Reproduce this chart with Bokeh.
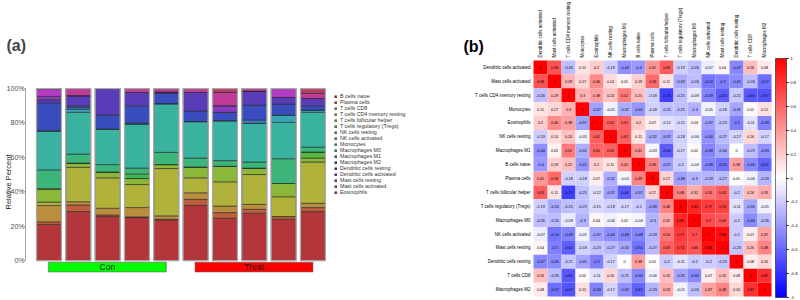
import numpy as np
from bokeh.plotting import figure
from bokeh.models import (ColumnDataSource, Range1d, FixedTicker, PrintfTickFormatter,
                          Legend, LegendItem, Label, Title, LinearColorMapper, ColorBar,
                          CustomJSTickFormatter)
from bokeh.layouts import row, column
from bokeh.embed import file_html
from bokeh.resources import INLINE
from bokeh.core.properties import value
from bokeh.transform import transform

FONT = "Liberation Sans"

# ---------------- (a) relative immune-cell fractions per sample ----------------
samples = ["Con1", "Con2", "Con3", "Con4", "Con5",
           "Treat1", "Treat2", "Treat3", "Treat4", "Treat5"]
sample_groups = ["Con"] * 5 + ["Treat"] * 5
group_names = ["Con", "Treat"]

cell_types = ["B cells naive", "Plasma cells", "T cells CD8", "T cells CD4 memory resting",
              "T cells follicular helper", "T cells regulatory (Tregs)", "NK cells resting",
              "NK cells activated", "Monocytes", "Macrophages M0", "Macrophages M1",
              "Macrophages M2", "Dendritic cells resting", "Dendritic cells activated",
              "Mast cells resting", "Mast cells activated", "Eosinophils"]

# percent of each sample (bottom -> top of every stacked bar)
b_cells_naive = [21.0, 28.5, 25.6, 25.0, 23.7, 32.1, 24.6, 27.5, 24.0, 28.5]
plasma_cells = [1.5, 3.8, 0.9, 0.4, 0.3, 3.5, 3.3, 2.3, 1.6, 2.3]
t_cells_cd8 = [9.5, 1.9, 3.9, 5.4, 2.0, 3.8, 3.8, 2.9, 0.0, 2.5]
t_cells_cd4_memory_resting = [2.0, 20.0, 17.7, 13.4, 27.5, 8.7, 14.1, 17.3, 11.5, 24.0]
t_cells_follicular_helper = [7.7, 2.5, 3.4, 3.5, 2.3, 6.3, 9.0, 3.8, 7.7, 2.3]
t_cells_tregs = [0.0, 0.0, 0.0, 0.0, 0.0, 0.0, 0.0, 0.0, 0.0, 3.5]
nk_cells_resting = [0.0, 0.0, 0.0, 2.7, 0.0, 0.0, 0.0, 0.0, 0.0, 0.0]
nk_cells_activated = [11.0, 5.2, 4.3, 3.4, 7.1, 5.2, 3.3, 3.5, 14.4, 2.9]
monocytes = [22.7, 24.3, 20.7, 25.6, 28.1, 21.2, 23.2, 22.5, 21.2, 20.2]
macrophages_m0 = [0.0, 1.7, 0.0, 0.0, 0.3, 0.0, 0.0, 0.0, 4.2, 1.3]
macrophages_m1 = [0.0, 1.0, 0.0, 0.5, 0.0, 0.0, 0.0, 1.9, 0.0, 0.0]
macrophages_m2 = [16.3, 1.1, 8.1, 10.1, 5.8, 6.1, 4.9, 8.7, 6.4, 2.5]
dendritic_cells_resting = [1.8, 5.6, 15.4, 7.7, 0.9, 10.8, 0.0, 8.1, 3.8, 4.2]
dendritic_cells_activated = [1.9, 0.4, 0.0, 0.0, 0.0, 0.0, 3.8, 0.0, 0.0, 0.0]
mast_cells_resting = [4.4, 0.0, 0.0, 0.0, 0.0, 0.0, 0.0, 0.0, 5.2, 0.0]
mast_cells_activated = [0.2, 4.0, 0.0, 2.3, 2.0, 2.3, 7.7, 1.5, 0.0, 2.9]
eosinophils = [0.0, 0.0, 0.0, 0.0, 0.0, 0.0, 2.3, 0.0, 0.0, 2.9]

fractions = [b_cells_naive, plasma_cells, t_cells_cd8, t_cells_cd4_memory_resting,
             t_cells_follicular_helper, t_cells_tregs, nk_cells_resting, nk_cells_activated,
             monocytes, macrophages_m0, macrophages_m1, macrophages_m2,
             dendritic_cells_resting, dendritic_cells_activated, mast_cells_resting,
             mast_cells_activated, eosinophils]

cell_colors = ["#B3363A", "#BE5E3C", "#BB8E3E", "#B1B23A", "#8CB83A", "#56BA3E",
               "#3DB854", "#3BB579", "#39B29F", "#38A6B6", "#3B7FC0", "#3A4DBF",
               "#5B3CB8", "#893BC0", "#B23BC1", "#C03B98", "#B83A62"]

y_ticks = [0, 20, 40, 60, 80, 100]

# ---------------- (b) correlation matrix of the cell fractions ----------------
hm_names = ["Dendritic cells activated", "Mast cells activated", "T cells CD4 memory resting",
            "Monocytes", "Eosinophils", "NK cells resting", "Macrophages M1", "B cells naive",
            "Plasma cells", "T cells follicular helper", "T cells regulatory (Tregs)",
            "Macrophages M0", "NK cells activated", "Mast cells resting",
            "Dendritic cells resting", "T cells CD8", "Macrophages M2"]

r_dc_activated = [1, 0.68, -0.26, 0.11, 0.2, -0.19, -0.44, -0.4, 0.41, 0.63, -0.19, -0.26, -0.07, 0.04, -0.47, 0.26, 0.08]
r_mast_activated = [0.68, 1, 0.29, 0.17, 0.46, 0.14, 0.05, 0.19, 0.58, 0.11, -0.33, -0.26, -0.54, -0.5, -0.45, -0.26, -0.57]
r_cd4_memory_resting = [-0.26, 0.29, 1, 0.3, 0.38, 0.24, 0.52, 0.25, -0.18, -0.75, -0.25, -0.09, -0.49, -0.63, -0.21, -0.65, -0.67]
r_monocytes = [0.11, 0.17, 0.3, 1, -0.37, -0.05, -0.32, -0.41, -0.18, -0.25, -0.25, -0.3, -0.05, -0.18, -0.35, 0.02, 0.12]
r_eosinophils = [0.2, 0.46, 0.38, -0.37, 1, 0.62, 0.61, 0.2, 0.07, -0.12, -0.15, 0.04, -0.37, -0.23, -0.5, -0.11, -0.49]
r_nk_resting = [-0.19, 0.14, 0.24, -0.05, 0.62, 1, 0.62, 0.11, -0.32, -0.37, -0.18, -0.06, -0.44, -0.27, -0.17, 0.16, -0.17]
r_macrophages_m1 = [-0.44, 0.05, 0.52, -0.32, 0.61, 0.62, 1, 0.42, -0.03, -0.64, -0.17, 0.02, -0.48, -0.34, 0, -0.25, -0.43]
r_b_naive = [-0.4, 0.19, 0.25, -0.41, 0.2, 0.11, 0.42, 1, 0.49, -0.37, -0.2, -0.04, -0.48, -0.55, 0.38, -0.46, -0.61]
r_plasma = [0.41, 0.58, -0.18, -0.18, 0.07, -0.32, -0.03, 0.49, 1, 0.17, -0.38, -0.3, -0.29, -0.27, 0.01, -0.06, -0.29]
r_tfh = [0.63, 0.11, -0.75, -0.25, -0.12, -0.37, -0.64, -0.37, 0.17, 1, 0.48, 0.32, 0.54, 0.63, -0.2, 0.26, 0.33]
r_tregs = [-0.19, -0.33, -0.25, -0.25, -0.15, -0.18, -0.17, -0.2, -0.38, 0.48, 1, 0.85, 0.77, 0.74, -0.11, -0.35, -0.05]
r_macrophages_m0 = [-0.26, -0.26, -0.09, -0.3, 0.04, -0.06, 0.02, -0.04, -0.3, 0.32, 0.85, 1, 0.7, 0.66, -0.2, -0.46, -0.26]
r_nk_activated = [-0.07, -0.54, -0.49, -0.05, -0.37, -0.44, -0.48, -0.48, -0.29, 0.54, 0.77, 0.7, 1, 0.94, -0.2, 0.07, 0.37]
r_mast_resting = [0.04, -0.5, -0.63, -0.18, -0.23, -0.27, -0.34, -0.55, -0.27, 0.63, 0.74, 0.66, 0.94, 1, -0.23, 0.26, 0.48]
r_dc_resting = [-0.47, -0.45, -0.21, -0.35, -0.5, -0.17, 0, 0.38, 0.01, -0.2, -0.11, -0.2, -0.2, -0.23, 1, 0.08, 0.16]
r_cd8 = [0.26, -0.26, -0.65, 0.02, -0.11, 0.16, -0.25, -0.46, -0.06, 0.26, -0.35, -0.46, 0.07, 0.26, 0.08, 1, 0.81]
r_macrophages_m2 = [0.08, -0.57, -0.67, 0.12, -0.49, -0.17, -0.43, -0.61, -0.29, 0.33, -0.05, -0.26, 0.37, 0.48, 0.16, 0.81, 1]

corr_rows = [r_dc_activated, r_mast_activated, r_cd4_memory_resting, r_monocytes,
             r_eosinophils, r_nk_resting, r_macrophages_m1, r_b_naive, r_plasma, r_tfh,
             r_tregs, r_macrophages_m0, r_nk_activated, r_mast_resting, r_dc_resting,
             r_cd8, r_macrophages_m2]
corr_ticks = [-1, -0.8, -0.6, -0.4, -0.2, 0, 0.2, 0.4, 0.6, 0.8, 1]

# ======================= panel (a) =======================
x_pos = np.arange(1, len(samples) + 1)
stack_keys = [f"c{i}" for i in range(len(cell_types))]
bar_data = {"x": x_pos}
for key, vals in zip(stack_keys, fractions):
    bar_data[key] = vals
bar_src = ColumnDataSource(bar_data)

pa = figure(width=460, height=300, output_backend="svg", toolbar_location=None, tools="",
            x_range=Range1d(0.2, 15.03), y_range=Range1d(-9.25, 100.6),
            min_border_left=24, min_border_right=0, min_border_top=86, min_border_bottom=24)
pa.outline_line_color = None
pa.grid.visible = False
pa.xaxis.visible = False

bar_w = 0.85
renderers = pa.vbar_stack(stack_keys, x="x", width=bar_w, source=bar_src,
                          fill_color=cell_colors, line_color="#2a2a2a", line_width=0.6)
totals = np.sum(np.array(fractions), axis=0)
pa.vbar(x=x_pos, top=totals, bottom=0, width=bar_w, fill_color=None,
        line_color="#a8a8a8", line_width=1.2)

# group indicator boxes below the bars
grp_left, grp_right = [], []
for g in group_names:
    idx = [x for x, s in zip(x_pos, sample_groups) if s == g]
    grp_left.append(min(idx) - 0.02)
    grp_right.append(max(idx))
grp_src = ColumnDataSource(dict(left=grp_left, right=grp_right,
                                mid=[(l + r) / 2 for l, r in zip(grp_left, grp_right)],
                                name=group_names, color=["#00FF00", "#FF0000"]))
pa.quad(left="left", right="right", bottom=-6.6, top=-1.0, source=grp_src,
        fill_color="color", line_color="#606060", line_width=0.6)
pa.text(x="mid", y=-3.8, text="name", source=grp_src, text_align="center",
        text_baseline="middle", text_font=value(FONT), text_font_size="8.5px",
        text_color="#1a1a1a")

ya = pa.yaxis[0]
ya.ticker = FixedTicker(ticks=y_ticks)
ya.formatter = PrintfTickFormatter(format="%d%%")
ya.bounds = (0, 100)
ya.axis_line_color = "#8c8c8c"
ya.axis_line_width = 0.8
ya.major_tick_line_color = "#8c8c8c"
ya.major_tick_out = 1
ya.major_tick_in = 0
ya.minor_tick_line_color = None
ya.major_label_standoff = 0
ya.major_label_text_font = FONT
ya.major_label_text_font_size = "7px"
ya.major_label_text_color = "#4d4d4d"
ya.axis_label = "Relative Percent"
ya.axis_label_text_font = FONT
ya.axis_label_text_font_size = "7.5px"
ya.axis_label_text_font_style = "normal"
ya.axis_label_text_color = "#1a1a1a"
ya.axis_label_text_line_height = 0.6
ya.axis_label_standoff = -9

pa.add_layout(Title(text="(a)", text_font=FONT, text_font_size="16px",
                    text_font_style="bold", align="left", offset=-19, standoff=68), "above")

legend = Legend(items=[LegendItem(label=name, renderers=[r])
                       for name, r in zip(cell_types, renderers)],
                location=(309, 81), glyph_width=3, glyph_height=3, label_height=5,
                label_standoff=3, spacing=0, padding=0, margin=0,
                label_text_font=FONT, label_text_font_size="5.3px",
                label_text_color="#333333", border_line_color=None,
                background_fill_alpha=0)
pa.add_layout(legend)

# ======================= panel (b) =======================
def ramp(c0, c1, n):
    out = []
    for t in np.linspace(0, 1, n):
        rgb = [int(round(a + (b - a) * t)) for a, b in zip(c0, c1)]
        out.append("#%02x%02x%02x" % tuple(rgb))
    return out

palette = ramp((0, 0, 255), (255, 255, 255), 101)[:-1] + ramp((255, 255, 255), (255, 0, 0), 101)
mapper = LinearColorMapper(palette=palette, low=-1, high=1)

n = len(hm_names)
col_pos = np.arange(n)              # column i -> x = i
row_pos = (n - 1) - np.arange(n)    # first row on top

hx, hy, hv, ht = [], [], [], []
for ry, rvals in zip(row_pos, corr_rows):
    for cx, v in zip(col_pos, rvals):
        hx.append(cx)
        hy.append(ry)
        hv.append(v)
        ht.append(f"{v:g}")
hm_src = ColumnDataSource(dict(x=hx, y=hy, v=hv, t=ht))

pb = figure(width=340, height=300, output_backend="svg", toolbar_location=None, tools="",
            x_range=Range1d(-5.714, 18.57), y_range=Range1d(-0.788, 20.82),
            min_border_left=0, min_border_right=0, min_border_top=0, min_border_bottom=0)
pb.outline_line_color = None
pb.grid.visible = False
pb.axis.visible = False

pb.rect(x="x", y="y", width=1, height=1, source=hm_src,
        fill_color=transform("v", mapper), line_color=None)
pb.text(x="x", y="y", text="t", source=hm_src, text_align="center",
        text_baseline="middle", text_font=value(FONT), text_font_size="3.7px",
        text_color="#000000")

# row names on the left, column names rotated above the matrix
lab_src = ColumnDataSource(dict(name=hm_names, col=col_pos, row=row_pos,
                                left=np.full(n, col_pos.min() - 0.5),
                                top=np.full(n, row_pos.max() + 0.5)))
pb.text(x="left", y="row", text="name", source=lab_src, x_offset=-3,
        text_align="right", text_baseline="middle", text_font=value(FONT),
        text_font_size="4.5px", text_color="#000000")
pb.text(x="col", y="top", text="name", source=lab_src, y_offset=-3, angle=np.pi / 2,
        text_align="left", text_baseline="middle", text_font=value(FONT),
        text_font_size="4.5px", text_color="#000000")

cb = ColorBar(color_mapper=mapper, width=11, height=239, location=(315, 3),
              margin=0, padding=0, label_standoff=2,
              ticker=FixedTicker(ticks=corr_ticks),
              formatter=CustomJSTickFormatter(code="return String(Math.round(tick * 10) / 10)"),
              major_label_text_font=FONT, major_label_text_font_size="4px",
              major_label_text_color="#000000", major_tick_line_color="#000000",
              major_tick_out=2, major_tick_in=0, bar_line_color="#000000", bar_line_width=0.5,
              background_fill_alpha=0)
pb.add_layout(cb)

pb.add_layout(Label(x=3, y=246, x_units="screen", y_units="screen", text="(b)",
                    text_font=FONT, text_font_size="16px", text_font_style="bold",
                    text_color="#000000"))

page = row(pa, column(pb), spacing=0)
open("out.html", "w").write(file_html(page, INLINE))
